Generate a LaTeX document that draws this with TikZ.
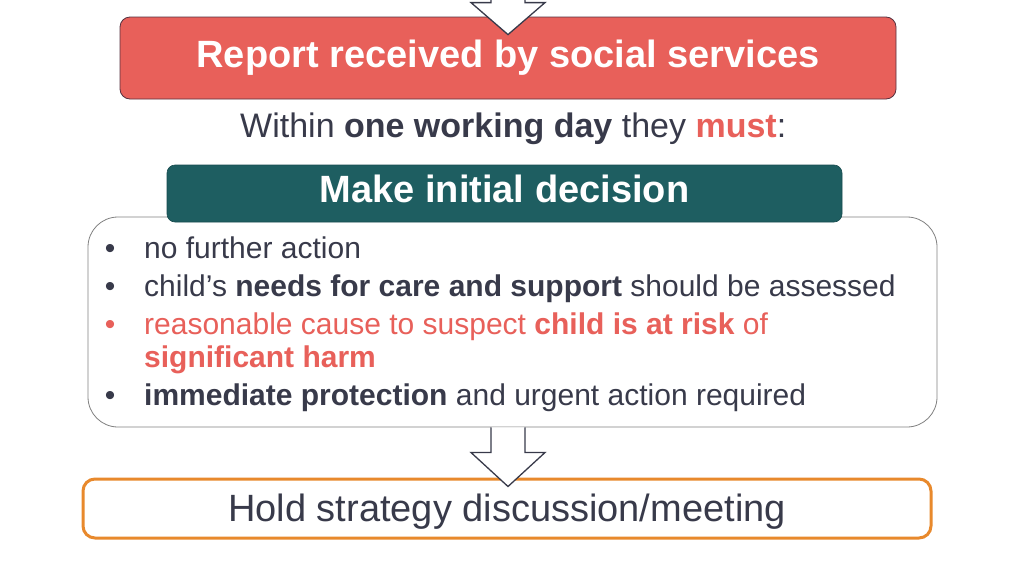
\documentclass[tikz,border=0pt]{standalone}
\usepackage{fontspec}
\setmainfont{Liberation Sans}
\usepackage{xcolor}
\usetikzlibrary{positioning,calc}

\definecolor{ink}{HTML}{383A4A}
\definecolor{alert}{HTML}{E8605A}
\definecolor{tealbox}{HTML}{1E5E61}
\definecolor{orangeline}{HTML}{E8892C}
\definecolor{frame}{HTML}{808080}

\begin{document}
\begin{tikzpicture}[x=1pt, y=-1pt,
    hollowarrow/.style={draw=ink, line width=1.3pt, fill=white, line join=miter},
    itemtext/.style={anchor=base west, inner sep=0pt, font=\fontsize{30}{36}\selectfont, text=ink},
    bulletdot/.style={anchor=base, inner sep=0pt, font=\fontsize{30}{36}\selectfont}]
% 画布大小
\useasboundingbox (0,0) rectangle (1024,576);

% 第一个框:报告
\node[rectangle, rounded corners=10pt, draw=ink!85!red, line width=0.8pt, fill=alert,
      minimum width=776pt, minimum height=82pt, text height=27pt, text depth=9pt,
      font=\fontsize{38}{44}\selectfont\bfseries, text=white] (report) at (508,58)
      {Report received by social services};

% 上方箭头(从图外进入)
\coordinate (tip1) at ($(report.north)+(0,18)$);
\coordinate (in) at ($(tip1)+(0,-60)$);
\draw[hollowarrow] ($(in)+(-17,0)$) -- ($(tip1)+(-17,-32)$) -- ($(tip1)+(-37,-32)$)
    -- (tip1) -- ($(tip1)+(37,-32)$) -- ($(tip1)+(17,-32)$) -- ($(in)+(17,0)$);

% 时限说明
\node[anchor=base west, inner sep=0pt, font=\fontsize{34}{40}\selectfont, text=ink] (within) at (240,137)
    {Within \textbf{one working day} they \textcolor{alert}{\textbf{must}}:};

% 选项列表框
\node[rectangle, rounded corners=30pt, draw=frame, line width=0.8pt, fill=white,
      minimum width=849pt, minimum height=210pt] (list) at (512.5,322) {};

% 决定标题
\node[rectangle, rounded corners=8pt, fill=tealbox, draw=tealbox!80!black, line width=0.6pt,
      minimum width=675pt, minimum height=57pt, text height=27pt, text depth=10pt,
      font=\fontsize{38}{44}\selectfont\bfseries, text=white] (decide) at (504.5,193.5)
      {Make initial decision};

% 项目符号
\foreach \y/\c [count=\i] in {258.5/ink, 296/ink, 334/alert, 405/ink}
    \node[bulletdot, text=\c] (b\i) at (110,\y) {•};

% 列表文字
\node[itemtext] (item1) at (144,258.5) {no further action};
\node[itemtext] (item2) at (144,296) {child’s \textbf{needs for care and support} should be assessed};
\node[itemtext, text=alert] (item3) at (144,334) {reasonable cause to suspect \textbf{child is at risk} of};
\node[itemtext, text=alert] (item3b) at (144,367) {\textbf{significant harm}};
\node[itemtext] (item4) at (144,405) {\textbf{immediate protection} and urgent action required};

% 最后一个框:策略讨论
\node[rectangle, rounded corners=12pt, draw=orangeline, line width=3pt, fill=white,
      minimum width=848pt, minimum height=59pt, text height=28pt, text depth=2pt,
      font=\fontsize{38}{44}\selectfont, text=ink] (hold) at (507,508.5)
      {Hold strategy discussion/meeting};

% 下方箭头
\coordinate (tip2) at ($(hold.north)+(1,9)$);
\coordinate (out) at (tip2 |- list.south);
\draw[hollowarrow] ($(out)+(-17,0)$) -- ($(tip2)+(-17,-34)$) -- ($(tip2)+(-37,-34)$)
    -- (tip2) -- ($(tip2)+(37,-34)$) -- ($(tip2)+(17,-34)$) -- ($(out)+(17,0)$);
\end{tikzpicture}
\end{document}
